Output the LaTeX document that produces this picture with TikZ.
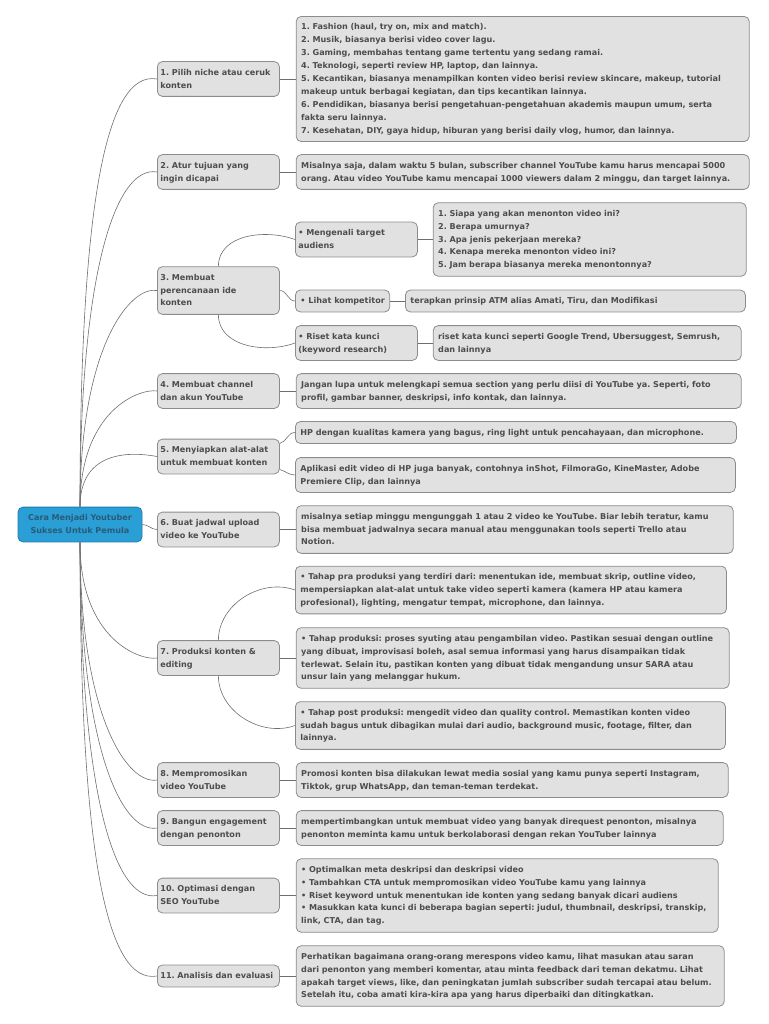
\documentclass[tikz,border=0pt]{standalone}
\usepackage{fontspec}
\setmainfont{DejaVu Sans}
\frenchspacing
\usetikzlibrary{positioning}

\definecolor{boxfill}{HTML}{E1E1E1}
\definecolor{boxline}{HTML}{8C8C8C}
\definecolor{boxtext}{HTML}{4D4D4D}
\definecolor{linkcol}{HTML}{6E6E6E}
\definecolor{rootfill}{HTML}{2A9FD6}
\definecolor{rootline}{HTML}{1F7DB0}
\definecolor{roottext}{HTML}{2A5A78}

\tikzset{
  box/.style={draw=boxline, fill=boxfill, line width=0.8pt, rounded corners=5pt,
    text=boxtext, font=\fontsize{8.1}{12.9}\selectfont\bfseries,
    inner xsep=5pt, inner ysep=4.5pt, align=left,
    execute at begin node=\strut, execute at end node=\strut},
  topic/.style={box, text width=116pt, inner xsep=3pt},
  detail/.style={box, text width=#1},
  rootbox/.style={box, fill=rootfill, draw=rootline, text=roottext, text width=118pt, inner xsep=3pt, align=center},
  link/.style={draw=linkcol, line width=0.6pt},
}

\begin{document}
\begin{tikzpicture}[x=1pt,y=1pt]
\useasboundingbox (0,0) rectangle (768,-1024);

% root
\node[rootbox] (root) at (80,-524.5) {Cara Menjadi Youtuber\\Sukses Untuk Pemula};

% main steps
\node[topic, anchor=west] (t1) at (157,-79) {1. Pilih niche atau ceruk\\konten};
\node[topic, anchor=west] (t2) at (157,-172) {2. Atur tujuan yang\\ingin dicapai};
\node[topic, anchor=west] (t3) at (157,-290.5) {3. Membuat\\perencanaan ide\\konten};
\node[topic, anchor=west] (t4) at (157,-391) {4. Membuat channel\\dan akun YouTube};
\node[topic, anchor=west] (t5) at (157,-456.5) {5. Menyiapkan alat-alat\\untuk membuat konten};
\node[topic, anchor=west] (t6) at (157,-529.5) {6. Buat jadwal upload\\video ke YouTube};
\node[topic, anchor=west] (t7) at (157,-658) {7. Produksi konten \&\\editing};
\node[topic, anchor=west] (t8) at (157,-780) {8. Mempromosikan\\video YouTube};
\node[topic, anchor=west] (t9) at (157,-828) {9. Bangun engagement\\dengan penonton};
\node[topic, anchor=west] (t10) at (157,-895.5) {10. Optimasi dengan\\SEO YouTube};
\node[topic, anchor=west] (t11) at (157,-976) {11. Analisis dan evaluasi};

% step 1, 2
\node[detail=443pt, right=16pt of t1] (d1) {1. Fashion (haul, try on, mix and match).\\2. Musik, biasanya berisi video cover lagu.\\3. Gaming, membahas tentang game tertentu yang sedang ramai.\\4. Teknologi, seperti review HP, laptop, dan lainnya.\\5. Kecantikan, biasanya menampilkan konten video berisi review skincare, makeup, tutorial\\makeup untuk berbagai kegiatan, dan tips kecantikan lainnya.\\6. Pendidikan, biasanya berisi pengetahuan-pengetahuan akademis maupun umum, serta\\fakta seru lainnya.\\7. Kesehatan, DIY, gaya hidup, hiburan yang berisi daily vlog, humor, dan lainnya.};
\node[detail=443pt, right=16pt of t2] (d2) {Misalnya saja, dalam waktu 5 bulan, subscriber channel YouTube kamu harus mencapai 5000\\orang. Atau video YouTube kamu mencapai 1000 viewers dalam 2 minggu, dan target lainnya.};

% step 3
\node[topic, anchor=west] (s1) at (295,-239.5) {• Mengenali target\\audiens};
\node[box, anchor=west] (s2) at (295,-301) {• Lihat kompetitor};
\node[topic, anchor=west] (s3) at (295,-343) {• Riset kata kunci\\(keyword research)};
\node[detail=303pt, right=15pt of s1] (a1) {1. Siapa yang akan menonton video ini?\\2. Berapa umurnya?\\3. Apa jenis pekerjaan mereka?\\4. Kenapa mereka menonton video ini?\\5. Jam berapa biasanya mereka menontonnya?};
\node[detail=330pt, anchor=west] (a2) at (405,-301) {terapkan prinsip ATM alias Amati, Tiru, dan Modifikasi};
\node[detail=298pt, right=15pt of s3] (a3) {riset kata kunci seperti Google Trend, Ubersuggest, Semrush,\\dan lainnya};

% step 4, 5, 6
\node[detail=435pt, right=16pt of t4] (d4) {Jangan lupa untuk melengkapi semua section yang perlu diisi di YouTube ya. Seperti, foto\\profil, gambar banner, deskripsi, info kontak, dan lainnya.};
\node[detail=431pt, anchor=west] (h1) at (295,-432.5) {HP dengan kualitas kamera yang bagus, ring light untuk pencahayaan, dan microphone.};
\node[detail=430pt, anchor=west] (h2) at (295,-475) {Aplikasi edit video di HP juga banyak, contohnya inShot, FilmoraGo, KineMaster, Adobe\\Premiere Clip, dan lainnya};
\node[detail=427pt, right=16pt of t6] (d6) {misalnya setiap minggu mengunggah 1 atau 2 video ke YouTube. Biar lebih teratur, kamu\\bisa membuat jadwalnya secara manual atau menggunakan tools seperti Trello atau\\Notion.};

% step 7
\node[detail=421pt, anchor=west] (p1) at (295,-590) {• Tahap pra produksi yang terdiri dari: menentukan ide, membuat skrip, outline video,\\mempersiapkan alat-alat untuk take video seperti kamera (kamera HP atau kamera\\profesional), lighting, mengatur tempat, microphone, dan lainnya.};
\node[detail=423pt, right=16pt of t7] (p2) {• Tahap produksi: proses syuting atau pengambilan video. Pastikan sesuai dengan outline\\yang dibuat, improvisasi boleh, asal semua informasi yang harus disampaikan tidak\\terlewat. Selain itu, pastikan konten yang dibuat tidak mengandung unsur SARA atau\\unsur lain yang melanggar hukum.};
\node[detail=420pt, anchor=west] (p3) at (295,-725.5) {• Tahap post produksi: mengedit video dan quality control. Memastikan konten video\\sudah bagus untuk dibagikan mulai dari audio, background music, footage, filter, dan\\lainnya.};

% step 8 - 11
\node[detail=422pt, right=16pt of t8] (d8) {Promosi konten bisa dilakukan lewat media sosial yang kamu punya seperti Instagram,\\Tiktok, grup WhatsApp, dan teman-teman terdekat.};
\node[detail=417pt, right=16pt of t9] (d9) {mempertimbangkan untuk membuat video yang banyak direquest penonton, misalnya\\penonton meminta kamu untuk berkolaborasi dengan rekan YouTuber lainnya};
\node[detail=412pt, right=16pt of t10] (d10) {• Optimalkan meta deskripsi dan deskripsi video\\• Tambahkan CTA untuk mempromosikan video YouTube kamu yang lainnya\\• Riset keyword untuk menentukan ide konten yang sedang banyak dicari audiens\\• Masukkan kata kunci di beberapa bagian seperti: judul, thumbnail, deskripsi, transkip,\\link, CTA, dan tag.};
\node[detail=418pt, right=16pt of t11] (d11) {Perhatikan bagaimana orang-orang merespons video kamu, lihat masukan atau saran\\dari penonton yang memberi komentar, atau minta feedback dari teman dekatmu. Lihat\\apakah target views, like, dan peningkatan jumlah subscriber sudah tercapai atau belum.\\Setelah itu, coba amati kira-kira apa yang harus diperbaiki dan ditingkatkan.};

% links from root
\foreach \tp in {t1,t2,t3,t4,t5}
  \draw[link] (root.north) to[out=90,in=170,out looseness=1.8,in looseness=0.3] (\tp.west);
\draw[link] (root.east) to[out=0,in=180] (t6.west);
\foreach \tp in {t7,t8,t9,t10,t11}
  \draw[link] (root.south) to[out=270,in=190,out looseness=1.8,in looseness=0.3] (\tp.west);

% links to details
\foreach \tp/\dt in {t1/d1,t2/d2,t4/d4,t6/d6,t7/p2,t8/d8,t9/d9,t10/d10,t11/d11,s1/a1,s2/a2,s3/a3}
  \draw[link] (\tp.east) -- (\dt.west);
\draw[link] (t3.north) to[out=90,in=160] (s1.west);
\draw[link] (t3.east) to[out=0,in=180] (s2.west);
\draw[link] (t3.south) to[out=270,in=200] (s3.west);
\draw[link] (t5.12) to[out=15,in=180] (h1.west);
\draw[link] (t5.-12) to[out=-15,in=180] (h2.west);
\draw[link] (t7.north) to[out=90,in=160] (p1.west);
\draw[link] (t7.south) to[out=270,in=200] (p3.west);
\end{tikzpicture}
\end{document}
